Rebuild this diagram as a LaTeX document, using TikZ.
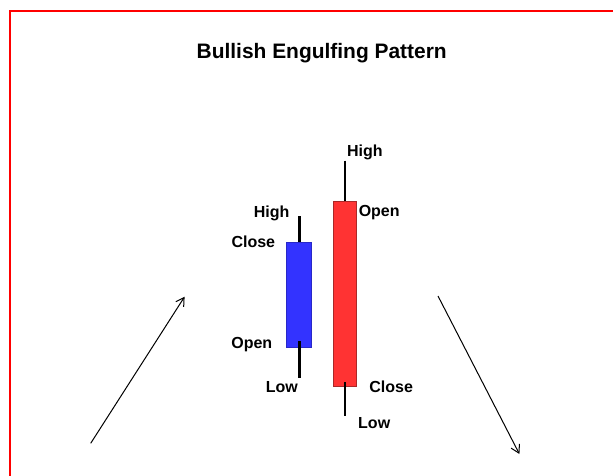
\documentclass[tikz,border=0pt]{standalone}
\usepackage{fontspec}
\setmainfont{Liberation Sans}
\usetikzlibrary{arrows.meta}
\begin{document}
\begin{tikzpicture}[x=0.75pt,y=-0.75pt,
  lbl/.style={font=\bfseries\fontsize{12}{14}\selectfont, inner sep=0pt, text height=0.716em, text depth=0pt},
  wick/.style={line width=2.2pt, black},
  bluebody/.style={rectangle, inner sep=0pt, minimum width=18.75pt, minimum height=79pt, fill={rgb,255:red,51;green,51;blue,255}, draw={rgb,255:red,40;green,40;blue,200}, line width=0.5pt},
  redbody/.style={rectangle, inner sep=0pt, minimum width=17.55pt, minimum height=138.75pt, fill={rgb,255:red,255;green,51;blue,51}, draw={rgb,255:red,170;green,40;blue,40}, line width=0.5pt},
  trend/.style={line width=0.75pt, -{Straight Barb[length=6pt,width=7pt]}}]
\useasboundingbox (0,0) rectangle (613,475);
\begin{scope}
\clip (0,0) rectangle (613,475);
\draw[red, line width=2pt] (10,11) rectangle (640,500);
\end{scope}
\node[font=\bfseries\fontsize{15.7}{18}\selectfont, inner sep=0pt, text height=0.716em, text depth=0pt] (title) at (321.7,54) {Bullish Engulfing Pattern};
% blue candle
\node[bluebody] (bbody) at (299.2,295) {};
\coordinate (bh) at (299.2,216);
\coordinate (bl) at (299.2,377.7);
\coordinate (bin) at (299.2,341);
\draw[wick] (bh) -- (bbody.north);
\draw[wick] (bin) -- (bl);
% red candle
\node[redbody] (rbody) at (345,293.5) {};
\coordinate (rh) at (345,160.7);
\coordinate (rl) at (345,416);
\coordinate (rin) at (345,382);
\draw[wick] (rh) -- (rbody.north);
\draw[wick] (rin) -- (rl);
% labels
\node[lbl] (bhigh) at (271.7,212.5) {High};
\node[lbl] (bclose) at (253.3,242.5) {Close};
\node[lbl] (bopen) at (251.8,343.5) {Open};
\node[lbl] (blow) at (281.8,387.5) {Low};
\node[lbl] (rhigh) at (364.8,151.5) {High};
\node[lbl] (ropen) at (379.2,211.5) {Open};
\node[lbl] (rclose) at (391.2,387.5) {Close};
\node[lbl] (rlow) at (374.2,423.5) {Low};
% trend arrows
\coordinate (a1) at (90.7,443.3);
\coordinate (a2) at (184.6,296.7);
\coordinate (b1) at (438,296);
\coordinate (b2) at (519.4,454);
\draw[trend] (a1) -- (a2);
\draw[trend] (b1) -- (b2);
\end{tikzpicture}
\end{document}
